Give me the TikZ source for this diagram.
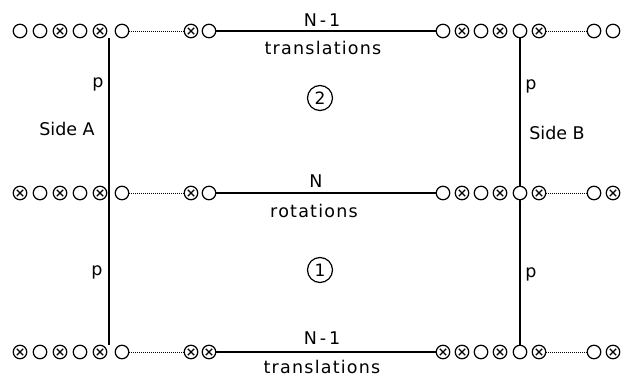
\documentclass[tikz,border=0pt]{standalone}
\usepackage{fontspec}
\newfontfamily\wordfont[LetterSpace=7]{DejaVu Sans}
\newfontfamily\plainfont{DejaVu Sans}
\begin{document}
\begin{tikzpicture}[x=1pt,y=-1pt,
  ring/.style={circle,draw,line width=1.25pt,minimum size=13.5pt,inner sep=0pt,fill=white},
  cross/.style={ring,path picture={\draw[line width=1.2pt]
     ([shift={(-3.2pt,-3.2pt)}]path picture bounding box.center) -- ++(6.4pt,6.4pt)
     ([shift={(-3.2pt,3.2pt)}]path picture bounding box.center) -- ++(6.4pt,-6.4pt);}},
  lbl/.style={font=\wordfont\fontsize{17.5}{19}\selectfont,inner sep=0pt},
  side/.style={font=\plainfont\fontsize{17.5}{19}\selectfont,inner sep=0pt},
  bar/.style={line width=1.3pt},
  dots/.style={line width=0.9pt,dash pattern=on 0.9pt off 1.1pt},
  num/.style={circle,draw,line width=1.2pt,minimum size=25pt,inner sep=0pt,
     font=\plainfont\fontsize{17}{19}\selectfont}]
\useasboundingbox (0,0) rectangle (622,378);
% vertical line of side A (behind the rows)
\coordinate (A0) at (109,38);
\coordinate (A1) at (109,345);
\draw[bar] (A0) -- (A1);
% rows of sites
\foreach \r/\y/\types in {
  T/31/{o,o,x,o,x,o,x,o,o,x,o,x,o,x,o,o},
  M/193/{x,o,x,o,x,o,x,o,o,x,o,x,o,x,o,x},
  B/352/{x,o,x,o,x,o,x,x,x,x,o,x,o,x,o,x}}{
  \foreach \t [count=\i] in \types {
    \pgfmathsetmacro\xx{{20,40,60,80,100,122,191,209,443,462,481,500,520,539,594,613}[\i-1]}
    \if\t x
      \node[cross] (\r\i) at (\xx,\y) {};
    \else
      \node[ring] (\r\i) at (\xx,\y) {};
    \fi
  }
}
% horizontal connectors
\foreach \r in {T,M,B}{
  \draw[dots] (\r6) -- (\r7);
  \draw[bar] (\r8) -- (\r9);
  \draw[dots] (\r14) -- (\r15);
}
% vertical line of side B
\draw[bar] (T13) -- (M13);
\draw[bar] (M13) -- (B13);
% labels
\node[lbl] (n1) at (322,20) {N\,-\,1};
\node[lbl] (t1) at (323,48) {translations};
\node[lbl] (n2) at (316,181) {N};
\node[lbl] (r2) at (314,211) {rotations};
\node[lbl] (n3) at (322,338) {N\,-\,1};
\node[lbl] (t3) at (322,367) {translations};
\node[num] (c2) at (320,98) {2};
\node[num] (c1) at (320,270) {1};
\node[side] (pA1) at (98,84) {p};
\node[side] (pA2) at (97,272) {p};
\node[side] (pB1) at (531,86) {p};
\node[side] (pB2) at (531,274) {p};
\node[side] (sA) at (67,129) {Side A};
\node[side] (sB) at (557,133) {Side B};
\end{tikzpicture}
\end{document}
